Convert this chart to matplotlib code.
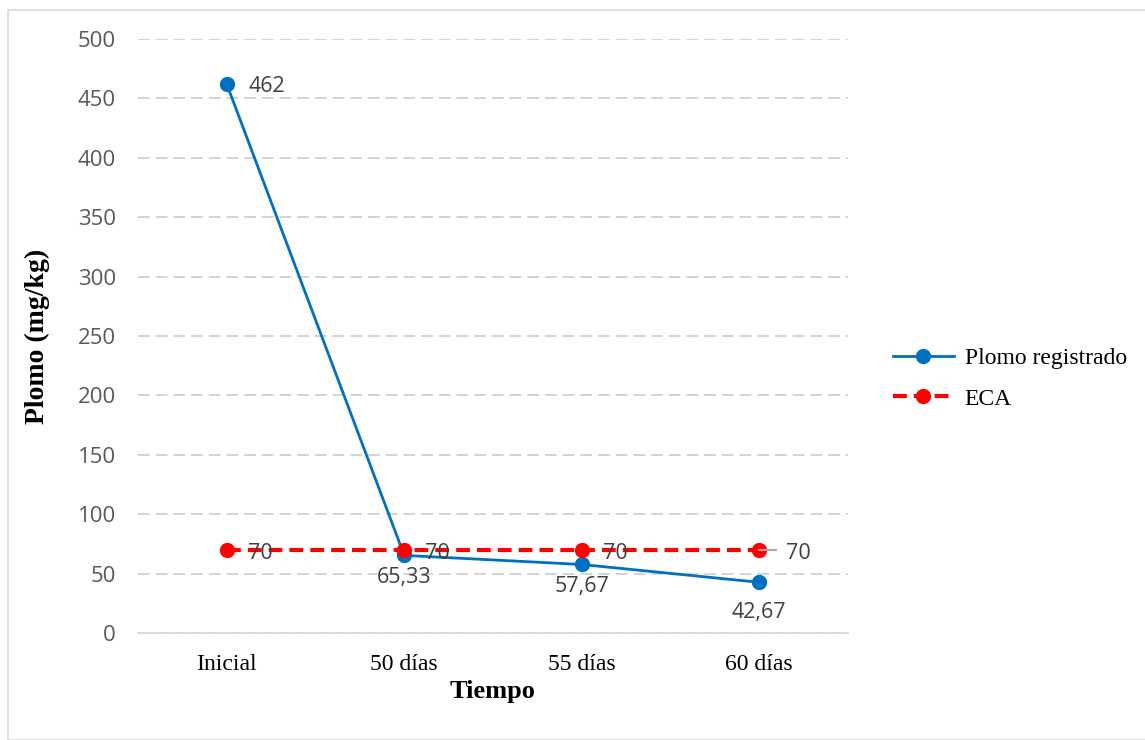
import matplotlib
matplotlib.use('Agg')
import matplotlib.pyplot as plt
from matplotlib.patches import Rectangle

## data
categorias = ['Inicial', '50 días', '55 días', '60 días']
plomo = [462, 65.33, 57.67, 42.67]
eca = [70, 70, 70, 70]
plomo_txt = ['462', '65,33', '57,67', '42,67']
eca_txt = ['70', '70', '70', '70']
yticks = [0, 50, 100, 150, 200, 250, 300, 350, 400, 450, 500]

azul = '#0070C0'
rojo = '#FF0000'
gris = '#595959'

fig = plt.figure(figsize=(11.45, 7.4), dpi=100)
fig.patches.append(Rectangle((8/1145, 0), 1, 1-10/740, transform=fig.transFigure,
                             fill=False, edgecolor='#D9D9D9', linewidth=1.2))
ax = fig.add_axes([138/1145, 1-633/740, 710/1145, 594/740])

x = list(range(len(categorias)))
ax.plot(x, plomo, '-o', color=azul, lw=2, ms=10, label='Plomo registrado', zorder=3)
ax.plot(x, eca, '--o', color=rojo, lw=3, ms=10, dashes=(3.3, 1.7), label='ECA', zorder=4)

# etiquetas de datos (desplazamiento en puntos)
sans = ['Open Sans', 'DejaVu Sans']
fs_dat = 15.5
desp_abajo = [0, -8.5, -8, -14.5]
ax.annotate(plomo_txt[0], (x[0], plomo[0]), xytext=(16, -2), textcoords='offset points',
            ha='left', va='center', fontsize=fs_dat, color='#404040', family=sans)
for i in range(1, 4):
    ax.annotate(plomo_txt[i], (x[i], plomo[i]), xytext=(0, desp_abajo[i]), textcoords='offset points',
                ha='center', va='top', fontsize=fs_dat, color='#404040', family=sans)
for i in range(3):
    ax.annotate(eca_txt[i], (x[i], eca[i]), xytext=(15, -2.5), textcoords='offset points',
                ha='left', va='center', fontsize=fs_dat, color='#404040', family=sans, zorder=5)
ax.plot([x[3], x[3] + 0.095], [eca[3], eca[3]], color='#A6A6A6', lw=1.5, zorder=5)
ax.annotate(eca_txt[3], (x[3], eca[3]), xytext=(19, -2.5), textcoords='offset points',
            ha='left', va='center', fontsize=fs_dat, color='#404040', family=sans)

ax.set_xlim(-0.5, 3.5)
ax.set_ylim(0, 500)
ax.set_yticks(yticks)
ax.set_xticks(x)
ax.set_xticklabels(categorias, family='Liberation Serif', fontsize=17)
ax.tick_params(axis='y', labelsize=16, labelcolor=gris, length=0, pad=16)
ax.tick_params(axis='x', length=0, pad=15)
for t in ax.get_yticklabels():
    t.set_family(sans)
ax.yaxis.grid(True, color='#D0D0D0', linestyle=(0, (6.5, 3.3)), lw=1.3)
ax.set_axisbelow(True)
for s in ['top', 'right', 'left']:
    ax.spines[s].set_visible(False)
ax.spines['bottom'].set_color('#D9D9D9')
ax.spines['bottom'].set_linewidth(1.3)

ax.set_xlabel('Tiempo', family='Liberation Serif', fontsize=19, fontweight='bold', labelpad=3.5)
ax.set_ylabel('Plomo (mg/kg)', family='Liberation Serif', fontsize=20, fontweight='bold', labelpad=20)

ax.legend(loc='center left', bbox_to_anchor=(1.033, 0.428), frameon=False,
          prop={'family': 'Liberation Serif', 'size': 17}, handlelength=2.6,
          handletextpad=0.45, labelspacing=0.8)

fig.savefig('out.png', dpi=100)
